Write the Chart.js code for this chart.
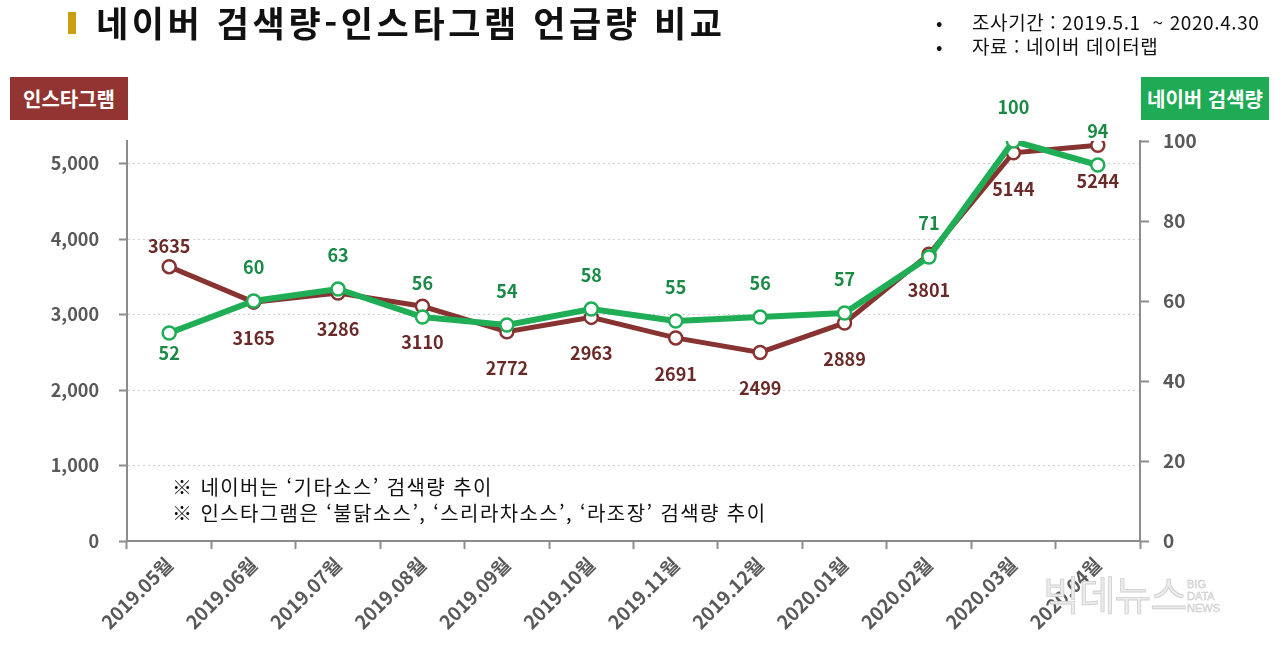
<!DOCTYPE html>
<html lang="ko">
<head>
<meta charset="utf-8">
<script src="https://cdn.jsdelivr.net/npm/chart.js@4.4.0/dist/chart.umd.min.js"></script>
<style>
  body { margin: 0; background: #fff; font-family: "Noto Sans CJK KR", "Noto Sans", sans-serif; }
  #wrap { position: relative; width: 1280px; height: 651px; overflow: hidden; }
  #chart { position: absolute; left: 0; top: 0; }
  .abs { position: absolute; white-space: nowrap; }
  #bar { left: 68px; top: 12px; width: 8px; height: 22px; background: #c9a010; }
  #title { left: 96px; top: -2px; font-size: 35px; font-weight: 700; color: #111; line-height: 48px; letter-spacing: 3.6px; }
  .info { font-size: 19px; color: #111; line-height: 24px; letter-spacing: 0.6px; }
  .badge { color: #fff; font-size: 20px; font-weight: 700; text-align: center; line-height: 43px; height: 43px; }
  #b1 { left: 10px; top: 77px; width: 118px; background: #923532; }
  #b2 { left: 1141px; top: 77px; width: 128px; background: #1faa55; }
  .note { font-size: 20px; color: #111; line-height: 25px; letter-spacing: 1.4px; }
  #wm { left: 1043px; top: 564px; font-size: 40px; font-weight: 400; color: #ececec; -webkit-text-stroke: 0.8px #cfcfcf; letter-spacing: -1px; }
  #wm2 { left: 1187px; top: 578px; font-size: 11px; line-height: 12px; color: #eeeeee; -webkit-text-stroke: 0.5px #c8c8c8; font-family: "Liberation Sans", sans-serif; }
</style>
</head>
<body>
<div id="wrap">
  <canvas id="chart" width="1280" height="651"></canvas>
  <div class="abs" id="bar"></div>
  <div class="abs" id="title">네이버 검색량-인스타그램 언급량 비교</div>
  <div class="abs info" style="left:936px; top:10px;">•</div>
  <div class="abs info" style="left:972px; top:10px;">조사기간 : 2019.5.1&nbsp; ~ 2020.4.30</div>
  <div class="abs info" style="left:936px; top:34px;">•</div>
  <div class="abs info" style="left:972px; top:34px;">자료 : 네이버 데이터랩</div>
  <div class="abs badge" id="b1">인스타그램</div>
  <div class="abs badge" id="b2">네이버 검색량</div>
  <div class="abs note" style="left:172px; top:474px;">※ 네이버는 ‘기타소스’ 검색량 추이</div>
  <div class="abs note" style="left:172px; top:500px;">※ 인스타그램은 ‘불닭소스’, ‘스리라차소스’, ‘라조장’ 검색량 추이</div>
  <div class="abs" id="wm">빅데뉴스</div>
  <div class="abs" id="wm2">BIG<br>DATA<br>NEWS</div>
</div>
<script>
// months on the x axis
const months = ["2019.05월", "2019.06월", "2019.07월", "2019.08월", "2019.09월", "2019.10월",
                "2019.11월", "2019.12월", "2020.01월", "2020.02월", "2020.03월", "2020.04월"];
// instagram mentions (left axis)
const instaValues = [3635, 3165, 3286, 3110, 2772, 2963, 2691, 2499, 2889, 3801, 5144, 5244];
// naver search index (right axis)
const naverValues = [52, 60, 63, 56, 54, 58, 55, 56, 57, 71, 100, 94];
// left axis tick values
const leftTicks = [0, 1000, 2000, 3000, 4000, 5000];
// label side for each point
const instaLabelSide = ["up", "down", "down", "down", "down", "down", "down", "down", "down", "down", "down", "down"];
const naverLabelSide = ["down", "up", "up", "up", "up", "up", "up", "up", "up", "up", "up", "up"];

const FONT = '"Noto Sans CJK KR", "Noto Sans", sans-serif';

// draws the value labels next to the points
const valueLabels = {
  id: "valueLabels",
  afterDatasetsDraw(chart) {
    const ctx = chart.ctx;
    ctx.save();
    ctx.font = "bold 18px " + FONT;
    ctx.textAlign = "center";
    ctx.textBaseline = "middle";
    chart.data.datasets.forEach(function (ds, i) {
      const meta = chart.getDatasetMeta(i);
      meta.data.forEach(function (pt, j) {
        const side = ds.labelSide[j];
        let dy;
        if (side === "up") dy = (ds.key === "insta") ? -21 : -34;
        else dy = (ds.key === "insta") ? 36 : 20;
        ctx.fillStyle = ds.labelColor;
        ctx.fillText(String(ds.data[j]), pt.x, pt.y + dy);
      });
    });
    ctx.restore();
  }
};

new Chart(document.getElementById("chart"), {
  type: "line",
  data: {
    labels: months,
    datasets: [
      {
        key: "naver",
        data: naverValues,
        yAxisID: "yR",
        order: 0,
        borderColor: "#1fae56",
        borderWidth: 6,
        pointRadius: 6.5,
        pointBorderWidth: 2.5,
        pointBackgroundColor: "#fff",
        pointBorderColor: "#1fae56",
        labelColor: "#1b8a45",
        labelSide: naverLabelSide,
        tension: 0
      },
      {
        key: "insta",
        data: instaValues,
        yAxisID: "yL",
        order: 1,
        borderColor: "#863331",
        borderWidth: 5,
        pointRadius: 6.5,
        pointBorderWidth: 2.5,
        pointBackgroundColor: "#fff",
        pointBorderColor: "#863331",
        labelColor: "#6a2a28",
        labelSide: instaLabelSide,
        tension: 0
      }
    ]
  },
  options: {
    responsive: false,
    animation: false,
    layout: { padding: { top: 141, left: 0, right: 0, bottom: 0 } },
    plugins: { legend: { display: false }, tooltip: { enabled: false } },
    scales: {
      x: {
        offset: true,
        grid: { offset: true, drawOnChartArea: false, tickLength: 8, tickColor: "#8c8c8c", tickWidth: 2 },
        border: { color: "#8c8c8c", width: 2 },
        ticks: {
          minRotation: 45, maxRotation: 45, padding: 4,
          color: "#595959", font: { family: FONT, size: 19, weight: "bold" }
        },
        afterFit(s) { s.height = 110; }
      },
      yL: {
        position: "left",
        min: 0, max: 5300,
        afterBuildTicks(s) { s.ticks = leftTicks.map(v => ({ value: v })); },
        grid: { color: "#cfcfcf", tickColor: "#8c8c8c", tickLength: 8, tickWidth: 2, tickBorderDash: [] },
        border: { color: "#8c8c8c", width: 2, dash: [2, 3] },
        ticks: {
          padding: 20, color: "#595959",
          font: { family: FONT, size: 18, weight: "bold" },
          callback: v => v.toLocaleString("en-US")
        },
        afterFit(s) { s.width = 127; }
      },
      yR: {
        position: "right",
        min: 0, max: 100,
        grid: { drawOnChartArea: false, tickColor: "#8c8c8c", tickLength: 9, tickWidth: 2 },
        border: { color: "#8c8c8c", width: 2 },
        ticks: {
          stepSize: 20, padding: 14, color: "#595959",
          font: { family: FONT, size: 19, weight: "bold" }
        },
        afterFit(s) { s.width = 140; }
      }
    }
  },
  plugins: [valueLabels]
});
</script>
</body>
</html>
